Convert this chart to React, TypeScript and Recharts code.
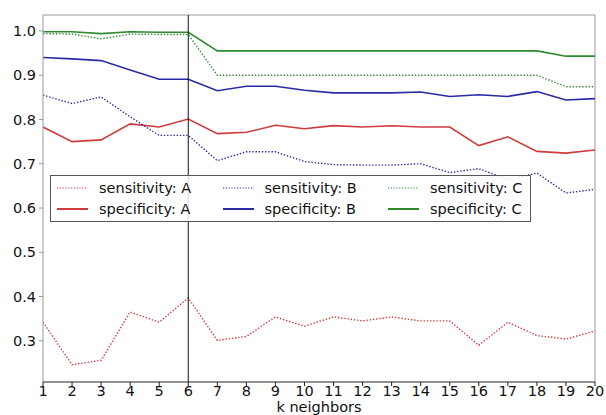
import React from 'react';
import { LineChart, Line, XAxis, YAxis, ReferenceLine } from 'recharts';

const kValues = [1, 2, 3, 4, 5, 6, 7, 8, 9, 10, 11, 12, 13, 14, 15, 16, 17, 18, 19, 20];

const sensitivityA = [0.342, 0.246, 0.256, 0.365, 0.342, 0.397, 0.301, 0.31, 0.354, 0.333, 0.354, 0.345, 0.354, 0.345, 0.345, 0.29, 0.342, 0.312, 0.304, 0.322];
const specificityA = [0.783, 0.75, 0.754, 0.79, 0.783, 0.801, 0.768, 0.771, 0.787, 0.779, 0.786, 0.783, 0.786, 0.783, 0.783, 0.741, 0.761, 0.728, 0.724, 0.731];
const sensitivityB = [0.855, 0.836, 0.851, 0.806, 0.764, 0.764, 0.707, 0.727, 0.727, 0.705, 0.698, 0.697, 0.697, 0.7, 0.68, 0.689, 0.664, 0.679, 0.634, 0.642];
const specificityB = [0.94, 0.937, 0.933, 0.912, 0.891, 0.891, 0.865, 0.875, 0.875, 0.866, 0.86, 0.86, 0.86, 0.862, 0.852, 0.856, 0.852, 0.863, 0.844, 0.847];
const sensitivityC = [0.994, 0.993, 0.982, 0.993, 0.992, 0.992, 0.9, 0.9, 0.9, 0.9, 0.9, 0.9, 0.9, 0.9, 0.9, 0.9, 0.9, 0.9, 0.874, 0.874];
const specificityC = [0.998, 0.998, 0.994, 0.998, 0.997, 0.997, 0.955, 0.955, 0.955, 0.955, 0.955, 0.955, 0.955, 0.955, 0.955, 0.955, 0.955, 0.955, 0.943, 0.943];

const yTicks = [0.3, 0.4, 0.5, 0.6, 0.7, 0.8, 0.9, 1.0];
const bestK = 6;

const RED = '#cf3b3b';
const BLUE = '#2a2aa6';
const GREEN = '#2f8a2f';
const FONT = '"DejaVu Sans", sans-serif';
const FS = 14.5;

const data = kValues.map((k, i) => ({
  k,
  sensA: sensitivityA[i],
  specA: specificityA[i],
  sensB: sensitivityB[i],
  specB: specificityB[i],
  sensC: sensitivityC[i],
  specC: specificityC[i],
}));

const series = [
  { key: 'sensA', name: 'sensitivity: A', color: RED, dotted: true },
  { key: 'specA', name: 'specificity: A', color: RED, dotted: false },
  { key: 'sensB', name: 'sensitivity: B', color: BLUE, dotted: true },
  { key: 'specB', name: 'specificity: B', color: BLUE, dotted: false },
  { key: 'sensC', name: 'sensitivity: C', color: GREEN, dotted: true },
  { key: 'specC', name: 'specificity: C', color: GREEN, dotted: false },
];

// legend drawn outside the chart so recharts doesn't reserve space for it
function LegendBox() {
  const cols = [series.slice(0, 2), series.slice(2, 4), series.slice(4, 6)];
  return (
    <div
      style={{
        position: 'absolute',
        left: 50,
        top: 175,
        boxSizing: 'border-box',
        display: 'flex',
        border: '1px solid #555',
        background: 'rgba(255,255,255,0.85)',
        padding: '2px 0 2px 6px',
        width: 481,
        height: 47,
        fontFamily: FONT,
        fontSize: FS,
        color: '#111',
      }}
    >
      {cols.map((col, ci) => (
        <div key={ci} style={{ width: ci === 2 ? 140 : 165.5, display: 'flex', flexDirection: 'column', justifyContent: 'space-around' }}>
          {col.map((s) => (
            <div key={s.key} style={{ display: 'flex', alignItems: 'center', height: 19, whiteSpace: 'nowrap' }}>
              <svg width={31} height={6} style={{ marginRight: 11 }}>
                <line
                  x1={0}
                  y1={3}
                  x2={31}
                  y2={3}
                  stroke={s.color}
                  strokeWidth={s.dotted ? 1.2 : 2}
                  strokeDasharray={s.dotted ? '1.2 1.6' : undefined}
                />
              </svg>
              <span>{s.name}</span>
            </div>
          ))}
        </div>
      ))}
    </div>
  );
}

export default function App() {
  return (
    <div style={{ position: 'absolute', left: 0, top: 0, width: 606, height: 415, background: '#fff' }}>
      <LineChart width={606} height={415} data={data} margin={{ top: 15, right: 11, bottom: 0, left: 0 }}>
        <XAxis
          dataKey="k"
          type="number"
          domain={[1, 20]}
          ticks={kValues}
          interval={0}
          allowDataOverflow
          stroke="#222"
          tickSize={4}
          tickMargin={0}
          height={33}
          tick={{ fill: '#111', fontSize: FS, fontFamily: FONT }}
          label={{ value: 'k neighbors', position: 'insideBottom', offset: 3, fill: '#111', fontSize: FS, fontFamily: FONT }}
        />
        <YAxis
          type="number"
          domain={[0.207, 1.036]}
          ticks={yTicks}
          allowDataOverflow
          width={43}
          stroke="#999"
          tickSize={4}
          tickMargin={3}
          tickFormatter={(v) => v.toFixed(1)}
          tick={{ fill: '#111', fontSize: FS, fontFamily: FONT }}
        />
        <ReferenceLine y={1.036} stroke="#999" strokeWidth={1} />
        <ReferenceLine x={20} stroke="#999" strokeWidth={1} />
        {series.map((s) => (
          <Line
            key={s.key}
            type="linear"
            dataKey={s.key}
            name={s.name}
            stroke={s.color}
            strokeWidth={s.dotted ? 1.4 : 1.6}
            strokeDasharray={s.dotted ? '1.4 1.8' : undefined}
            dot={false}
            activeDot={false}
            isAnimationActive={false}
          />
        ))}
        <ReferenceLine x={bestK} stroke="#111" strokeWidth={1} />
      </LineChart>
      <LegendBox />
    </div>
  );
}
